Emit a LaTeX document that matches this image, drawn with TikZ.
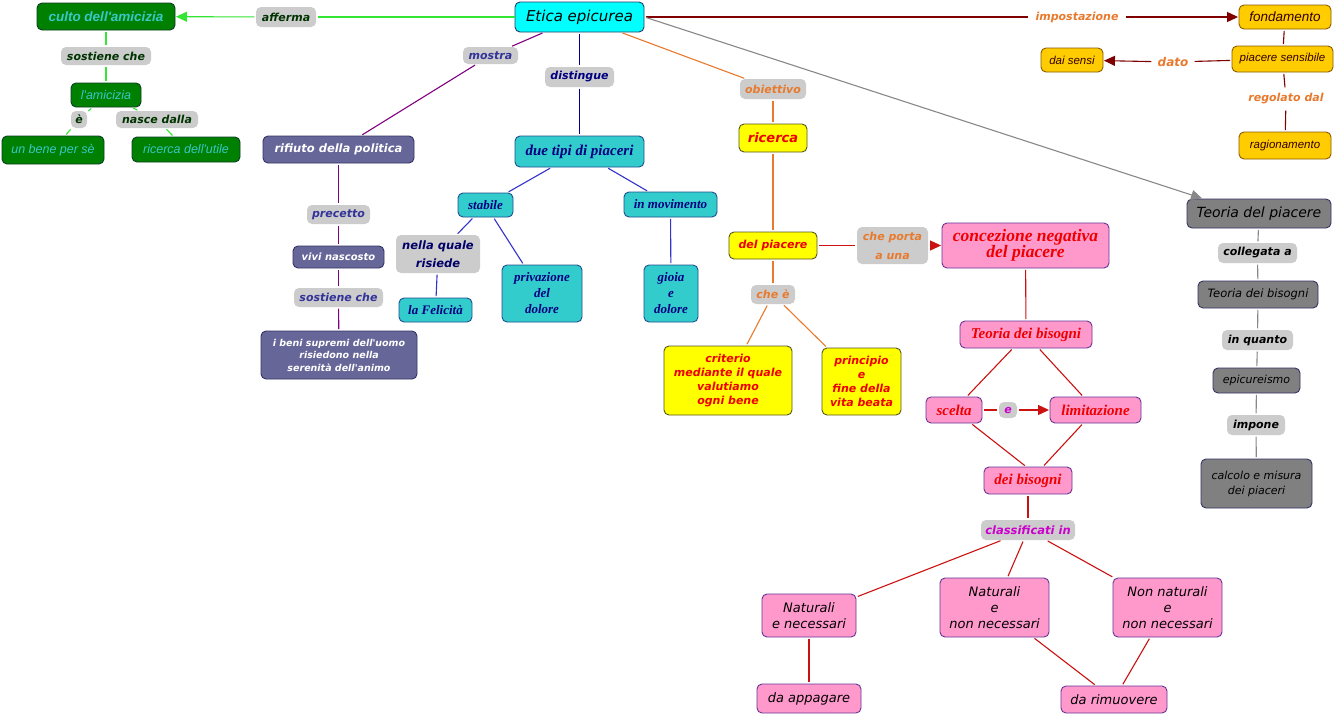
\documentclass[tikz,border=0pt]{standalone}
\usepackage{fontspec}
\setmainfont{DejaVu Sans}
\newfontfamily\dvs[BoldFont={DejaVu Sans Bold},ItalicFont={DejaVu Sans Oblique},BoldItalicFont={DejaVu Sans Bold Oblique}]{DejaVu Sans}
\newfontfamily\lsans{Liberation Sans}
\newfontfamily\lserif{Liberation Serif}
\usetikzlibrary{arrows.meta}
\newcommand\fsz[2]{\fontsize{#1}{#2}\selectfont}
\definecolor{eticac}{HTML}{00FFFF}
\definecolor{eticab}{HTML}{2A3A66}
\definecolor{gfill}{HTML}{008000}
\definecolor{gbord}{HTML}{0F3D26}
\definecolor{gtext}{HTML}{38C8C8}
\definecolor{gdark}{HTML}{003300}
\definecolor{gline}{HTML}{33E633}
\definecolor{lbl}{HTML}{CCCCCC}
\definecolor{slate}{HTML}{666699}
\definecolor{slateb}{HTML}{333366}
\definecolor{lblue}{HTML}{333399}
\definecolor{purp}{HTML}{800080}
\definecolor{tealc}{HTML}{33CCCC}
\definecolor{tealb}{HTML}{1F4F8F}
\definecolor{navyc}{HTML}{000080}
\definecolor{navyd}{HTML}{000066}
\definecolor{bline}{HTML}{000099}
\definecolor{bline2}{HTML}{3333CC}
\definecolor{orng}{HTML}{E87A2E}
\definecolor{yel}{HTML}{FFFF00}
\definecolor{yelb}{HTML}{555522}
\definecolor{pinkc}{HTML}{FF99CC}
\definecolor{pinkb}{HTML}{663399}
\definecolor{rline}{HTML}{CC1111}
\definecolor{rtext}{HTML}{EE0000}
\definecolor{mag}{HTML}{CC00CC}
\definecolor{goldc}{HTML}{FFCC00}
\definecolor{goldb}{HTML}{8A5A00}
\definecolor{goldt}{HTML}{330000}
\definecolor{dred}{HTML}{800000}
\definecolor{grayc}{HTML}{808080}
\definecolor{grayb}{HTML}{333366}
\definecolor{grayl}{HTML}{888888}
\tikzset{
  cbox/.style={rounded corners=5pt, draw, line width=0.9pt, inner sep=0pt, align=center},
  lab/.style={rounded corners=5pt, fill=lbl, inner sep=0pt, align=center, font=\dvs\bfseries\itshape\fsz{11}{13}},
  wlab/.style={lab, fill=white},
  con/.style={line width=1.1pt, shorten <=1.5pt, shorten >=1.5pt},
  arr/.style={con, -{Triangle[length=11pt,width=10pt]}, shorten >=0.5pt},
  greenbox/.style={cbox, fill=gfill, draw=gbord, text=gtext, font=\lsans\itshape\fsz{12.5}{15}},
  slatebox/.style={cbox, fill=slate, draw=slateb, text=white, font=\dvs\bfseries\itshape\fsz{11.5}{14}},
  tealbox/.style={cbox, fill=tealc, draw=tealb, text=navyc, font=\lserif\bfseries\itshape\fsz{13}{16}},
  ybox/.style={cbox, fill=yel, draw=yelb, text=rtext, font=\dvs\bfseries\itshape\fsz{11}{14}},
  pbox/.style={cbox, fill=pinkc, draw=pinkb, text=rtext, font=\lserif\bfseries\itshape\fsz{15}{16}},
  pboxb/.style={cbox, fill=pinkc, draw=pinkb, text=black, font=\dvs\itshape\fsz{13}{16}},
  goldbox/.style={cbox, fill=goldc, draw=goldb, text=goldt, font=\lsans\itshape\fsz{11.5}{14}},
  graybox/.style={cbox, fill=grayc, draw=grayb, text=black, font=\dvs\itshape\fsz{11.5}{15}},
}
\begin{document}
\begin{tikzpicture}[x=1pt,y=-1pt]
\useasboundingbox (0,0) rectangle (1339,715);
\fill[white] (0,0) rectangle (1339,715);

% ---- centre
\node[cbox, fill=eticac, draw=eticab, text=black, font=\dvs\itshape\fsz{15}{18}, minimum width=129pt, minimum height=30pt] (etica) at (579.5,17) {Etica epicurea};

% ---- green group
\node[greenbox, font=\lsans\bfseries\itshape\fsz{13.5}{16}, minimum width=138pt, minimum height=27pt] (culto) at (106,16.5) {culto dell'amicizia};
\node[lab, text=gdark, minimum width=60pt, minimum height=20pt] (afferma) at (286,17) {afferma};
\node[lab, text=gdark, minimum width=90pt, minimum height=18pt] (sost1) at (106,56) {sostiene che};
\node[greenbox, minimum width=70pt, minimum height=24pt] (amic) at (106,95) {l'amicizia};
\node[lab, text=gdark, minimum width=16pt, minimum height=17pt] (e1) at (79,119.5) {è};
\node[lab, text=gdark, minimum width=82pt, minimum height=17pt] (nasce) at (157,119.5) {nasce dalla};
\node[greenbox, minimum width=102pt, minimum height=28pt] (bene) at (53,150) {un bene per sè};
\node[greenbox, minimum width=108pt, minimum height=25pt] (utile) at (186,149.5) {ricerca dell'utile};

\draw[con, gline, shorten <=0pt] (etica) -- (afferma);
\draw[arr, gline] (afferma) -- (culto);
\draw[con, gline] (culto) -- (sost1);
\draw[con, gline] (sost1) -- (amic);
\draw[con, gline] (amic) -- (e1);
\draw[con, gline] (e1) -- (bene);
\draw[con, gline] (amic) -- (nasce);
\draw[con, gline] (nasce) -- (utile);

% ---- purple group
\node[lab, text=lblue, minimum width=55pt, minimum height=17pt] (mostra) at (490.5,55.5) {mostra};
\node[slatebox, minimum width=151pt, minimum height=27pt] (rifiuto) at (338.5,149.5) {rifiuto della politica};
\node[lab, text=lblue, minimum width=63pt, minimum height=19pt] (precetto) at (338.5,214.5) {precetto};
\node[slatebox, font=\dvs\bfseries\itshape\fsz{10}{12}, minimum width=91pt, minimum height=22pt] (vivi) at (338.5,257) {vivi nascosto};
\node[lab, text=lblue, minimum width=89pt, minimum height=19pt] (sost2) at (338.5,297.5) {sostiene che};
\node[slatebox, font=\dvs\bfseries\itshape\fsz{9.5}{12.5}, minimum width=156pt, minimum height=48pt] (beni) at (339,355) {i beni supremi dell'uomo\\risiedono nella\\serenità dell'animo};

\draw[con, purp] (etica) -- (mostra);
\draw[con, purp] (mostra) -- (rifiuto);
\draw[con, purp] (rifiuto) -- (precetto);
\draw[con, purp] (precetto) -- (vivi);
\draw[con, purp] (vivi) -- (sost2);
\draw[con, purp] (sost2) -- (beni);

% ---- teal group
\node[lab, text=navyc, minimum width=69pt, minimum height=20pt] (disting) at (579.5,77) {distingue};
\node[tealbox, font=\lserif\bfseries\itshape\fsz{15}{18}, minimum width=129pt, minimum height=31pt] (duetipi) at (579.5,151.5) {due tipi di piaceri};
\node[tealbox, minimum width=55pt, minimum height=24pt] (stabile) at (485.5,205) {stabile};
\node[tealbox, minimum width=93pt, minimum height=25pt] (movim) at (670.5,204.5) {in movimento};
\node[lab, text=navyd, font=\dvs\bfseries\itshape\fsz{11.5}{18}, minimum width=84pt, minimum height=38pt] (nellaq) at (438,254) {nella quale\\risiede};
\node[tealbox, minimum width=73pt, minimum height=24pt] (felic) at (435.5,310) {la Felicità};
\node[tealbox, minimum width=80pt, minimum height=57pt] (privaz) at (542,293.5) {privazione\\del\\dolore};
\node[tealbox, minimum width=54pt, minimum height=57pt] (gioia) at (671,293.5) {gioia\\e\\dolore};

\draw[con, bline] (etica) -- (disting);
\draw[con, bline] (disting) -- (duetipi);
\draw[con, bline2] (duetipi) -- (stabile);
\draw[con, bline2] (duetipi) -- (movim);
\draw[con, bline2] (stabile) -- (nellaq);
\draw[con, bline2] (nellaq) -- (felic);
\draw[con, bline2] (stabile) -- (privaz);
\draw[con, bline2] (movim) -- (gioia);

% ---- yellow group
\node[lab, text=orng, minimum width=66pt, minimum height=20pt] (obiett) at (773,89) {obiettivo};
\node[ybox, font=\dvs\bfseries\itshape\fsz{13}{16}, minimum width=68pt, minimum height=28pt] (ricerca) at (773,138) {ricerca};
\node[ybox, minimum width=88pt, minimum height=27pt] (delpiac) at (773,245.5) {del piacere};
\node[lab, text=orng, minimum width=44pt, minimum height=19pt] (chee) at (773,294.5) {che è};
\node[ybox, minimum width=128pt, minimum height=69pt] (criterio) at (728,380.5) {criterio\\mediante il quale\\valutiamo\\ogni bene};
\node[ybox, minimum width=79pt, minimum height=67pt] (principio) at (861.5,381.5) {principio\\e\\fine della\\vita beata};
\node[lab, text=orng, font=\dvs\bfseries\itshape\fsz{11}{19}, minimum width=71pt, minimum height=37pt] (cheporta) at (892.5,245.5) {che porta\\a una};

\draw[con, orng] (etica) -- (obiett);
\draw[con, orng] (obiett) -- (ricerca);
\draw[con, orng] (ricerca) -- (delpiac);
\draw[con, orng] (delpiac) -- (chee);
\draw[con, orng] (chee) -- (criterio);
\draw[con, orng] (chee) -- (principio);

% ---- pink group
\node[pbox, font=\lserif\bfseries\itshape\fsz{17.5}{16}, minimum width=167pt, minimum height=45pt] (concez) at (1025.5,245.5) {concezione negativa\\del piacere};
\node[pbox, minimum width=132pt, minimum height=27pt] (teobis) at (1026,334.5) {Teoria dei bisogni};
\node[pbox, minimum width=56pt, minimum height=26pt] (scelta) at (954,410) {scelta};
\node[lab, text=mag, minimum width=18pt, minimum height=16pt] (econg) at (1008,410) {e};
\node[pbox, minimum width=91pt, minimum height=26pt] (limitaz) at (1095.5,410) {limitazione};
\node[pbox, minimum width=88pt, minimum height=27pt] (deibis) at (1028,480.5) {dei bisogni};
\node[lab, text=mag, font=\dvs\bfseries\itshape\fsz{11.5}{14}, minimum width=94pt, minimum height=20pt] (classif) at (1028,530) {classificati in};
\node[pboxb, minimum width=94pt, minimum height=43pt] (natnec) at (809,615.5) {Naturali\\e necessari};
\node[pboxb, minimum width=109pt, minimum height=59pt] (natnon) at (994.5,607.5) {Naturali\\e\\non necessari};
\node[pboxb, minimum width=109pt, minimum height=59pt] (nonnat) at (1167.5,607.5) {Non naturali\\e\\non necessari};
\node[pboxb, minimum width=104pt, minimum height=29pt] (appag) at (809,698.5) {da appagare};
\node[pboxb, minimum width=106pt, minimum height=27pt] (rimuov) at (1114,699.5) {da rimuovere};

\draw[con, rline] (delpiac) -- (cheporta);
\draw[arr, rline] (cheporta) -- (concez);
\draw[con, rline] (concez) -- (teobis);
\draw[con, rline] (teobis) -- (scelta);
\draw[con, rline] (teobis) -- (limitaz);
\draw[con, rline] (scelta) -- (econg);
\draw[arr, rline] (econg) -- (limitaz);
\draw[con, rline] (scelta) -- ([xshift=-2pt]deibis.north);
\draw[con, rline] (limitaz) -- ([xshift=15pt]deibis.north);
\draw[con, rline] (deibis) -- (classif);
\draw[con, rline] (classif) -- (natnec);
\draw[con, rline] (classif) -- (natnon);
\draw[con, rline] (classif) -- (nonnat);
\draw[con, rline] (natnec) -- (appag);
\draw[con, rline] (natnon) -- (rimuov);
\draw[con, rline] (nonnat) -- (rimuov);

% ---- gold group
\node[wlab, text=orng, minimum width=95pt, minimum height=20pt] (impost) at (1077,17) {impostazione};
\node[goldbox, font=\lsans\itshape\fsz{13.5}{16}, minimum width=92pt, minimum height=24pt] (fondam) at (1285,17) {fondamento};
\node[goldbox, minimum width=101pt, minimum height=26pt] (piacsens) at (1282.5,59) {piacere sensibile};
\node[wlab, text=orng, font=\dvs\bfseries\itshape\fsz{12}{14}, minimum width=40pt, minimum height=20pt] (dato) at (1173,62) {dato};
\node[goldbox, minimum width=62pt, minimum height=24pt] (daisensi) at (1072,60) {dai sensi};
\node[wlab, text=orng, minimum width=85pt, minimum height=20pt] (regolato) at (1286,99) {regolato dal};
\node[goldbox, minimum width=92pt, minimum height=27pt] (ragion) at (1285,145.5) {ragionamento};

\draw[con, dred] (etica) -- (impost);
\draw[arr, dred] (impost) -- (fondam);
\draw[con, dred] (fondam) -- (piacsens);
\draw[con, dred] (piacsens) -- (dato);
\draw[arr, dred] (dato) -- (daisensi);
\draw[con, dred] (piacsens) -- (regolato);
\draw[con, dred] (regolato) -- (ragion);

% ---- gray group
\node[graybox, font=\dvs\itshape\fsz{14}{17}, minimum width=144pt, minimum height=29pt] (teopiac) at (1259,213.5) {Teoria del piacere};
\node[lab, text=black, minimum width=79pt, minimum height=20pt] (colleg) at (1257.5,253) {collegata a};
\node[graybox, minimum width=120pt, minimum height=27pt] (teobis2) at (1258,294.5) {Teoria dei bisogni};
\node[lab, text=black, minimum width=71pt, minimum height=20pt] (inquanto) at (1257.5,340) {in quanto};
\node[graybox, font=\dvs\itshape\fsz{11}{14}, minimum width=87pt, minimum height=25pt] (epicur) at (1256.5,380.5) {epicureismo};
\node[lab, text=black, minimum width=58pt, minimum height=20pt] (impone) at (1256,425) {impone};
\node[graybox, font=\dvs\itshape\fsz{11}{15}, minimum width=111pt, minimum height=49pt] (calcolo) at (1256.5,483.5) {calcolo e misura\\dei piaceri};

\draw[arr, grayl] (etica.east) -- ([xshift=16pt]teopiac.north west);
\draw[con, grayl] (teopiac) -- (colleg);
\draw[con, grayl] (colleg) -- (teobis2);
\draw[con, grayl] (teobis2) -- (inquanto);
\draw[con, grayl] (inquanto) -- (epicur);
\draw[con, grayl] (epicur) -- (impone);
\draw[con, grayl] (impone) -- (calcolo);
\end{tikzpicture}
\end{document}
